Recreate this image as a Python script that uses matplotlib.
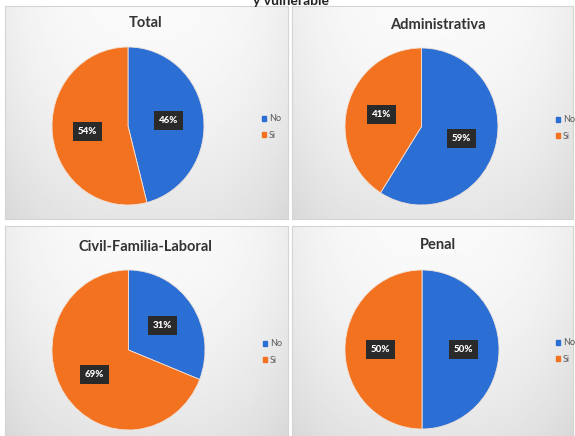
import numpy as np
import matplotlib.pyplot as plt
from matplotlib.patches import Patch

titles = ['Total', 'Administrativa', 'Civil-Familia-Laboral', 'Penal']
no_pct = [46, 59, 31, 50]
si_pct = [54, 41, 69, 50]
legend_labels = ['No', 'Si']
header = 'y vulnerable'

blue = '#2b6fd4'
orange = '#f3721f'
W, H = 575, 436

plt.rcParams['font.family'] = ['Lato', 'DejaVu Sans']


def rect(x0, y0, x1, y1):
    # pixel box (top-left origin) -> figure fraction
    return [x0 / W, 1 - y1 / H, (x1 - x0) / W, (y1 - y0) / H]


fig = plt.figure(figsize=(W / 100, H / 100), dpi=100)
fig.patch.set_facecolor('white')

panels = [(5, 6, 288, 219), (292, 6, 573, 219), (5, 226, 288, 436), (292, 226, 573, 436)]
pies = [(52, 47, 204, 205), (345, 48, 498, 205), (52, 270, 205, 430), (345, 270, 499, 429)]
title_pos = [(146, 23), (438, 25), (145, 247), (438, 245)]
legend_pos = [(257, 127), (551, 128), (258, 352), (551, 351)]

# soft grey backdrop for each panel
yy, xx = np.mgrid[0:1:120j, -1:1:160j]
shade = 0.98 - 0.08 * yy ** 1.6 - 0.05 * np.abs(xx) ** 3

for i in range(4):
    bg = fig.add_axes(rect(*panels[i]))
    bg.imshow(shade, cmap='gray', vmin=0, vmax=1, aspect='auto', interpolation='bilinear')
    bg.set_xticks([])
    bg.set_yticks([])
    for s in bg.spines.values():
        s.set_color('#d4d4d4')
        s.set_linewidth(0.8)

    ax = fig.add_axes(rect(*pies[i]))
    wedges, texts, autotexts = ax.pie(
        [no_pct[i], si_pct[i]], colors=[blue, orange], startangle=90,
        counterclock=False, autopct='%1.0f%%', pctdistance=0.54,
        wedgeprops=dict(edgecolor='#f1e2d8', linewidth=0.6),
        textprops=dict(color='white', fontsize=7, fontweight='black'))
    for t in autotexts:
        t.set_bbox(dict(boxstyle='square,pad=0.5', fc='#2a2a2a', ec='none'))
    ax.set_aspect('auto')
    ax.set_xlim(-1, 1)
    ax.set_ylim(-1, 1)

    tx, ty = title_pos[i]
    fig.text(tx / W, 1 - ty / H, titles[i], ha='center', va='center',
             fontsize=10.5, fontweight='bold', color='#333333')

    lx, ly = legend_pos[i]
    handles = [Patch(color=blue), Patch(color=orange)]
    leg = ax.legend(handles, legend_labels, loc='center left',
                    bbox_to_anchor=(lx / W, 1 - ly / H), bbox_transform=fig.transFigure,
                    frameon=False, fontsize=6.5, handlelength=0.5, handleheight=0.5,
                    handletextpad=0.3, labelspacing=0.8, borderpad=0)
    for t in leg.get_texts():
        t.set_color('#595959')

fig.text(291 / W, 1 - 5 / H, header, ha='center', va='baseline',
         fontsize=10, fontweight='bold', color='#222222')

fig.savefig('out.png', dpi=100)
